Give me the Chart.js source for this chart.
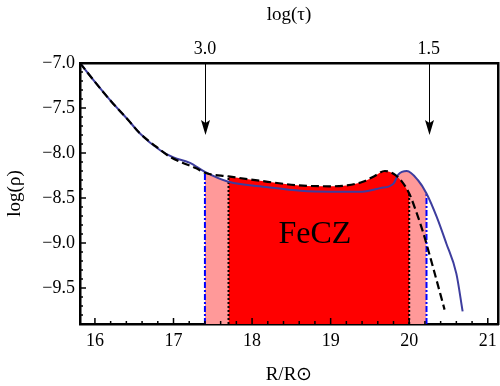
<!DOCTYPE html>
<html>
<head>
<meta charset="utf-8">
<script src="https://cdn.jsdelivr.net/npm/chart.js@4"></script>
<style>
  body { margin: 0; background: #fff; }
  #wrap { width: 500px; height: 386px; }
</style>
</head>
<body>
<div id="wrap"><canvas id="densityChart" width="500" height="386"></canvas></div>
<script>
// density profiles (R in solar radii, log rho)
var dashedR   = [15.81, 16.00, 16.21, 16.42, 16.57, 16.78, 16.95, 17.12, 17.29, 17.40, 17.70, 18.20, 18.60, 19.00, 19.20, 19.41, 19.55, 19.69, 19.80, 19.90, 20.00, 20.10, 20.18, 20.30, 20.45];
var dashedRho = [-7.00, -7.21, -7.43, -7.63, -7.78, -7.93, -8.04, -8.11, -8.17, -8.22, -8.26, -8.32, -8.36, -8.37, -8.36, -8.32, -8.26, -8.20, -8.23, -8.31, -8.45, -8.68, -8.89, -9.26, -9.74];
var solidR    = [15.81, 16.00, 16.21, 16.42, 16.57, 16.83, 17.00, 17.21, 17.40, 17.70, 18.20, 18.62, 19.00, 19.40, 19.63, 19.80, 19.86, 19.97, 20.11, 20.22, 20.35, 20.47, 20.60, 20.68];
var solidRho  = [-7.00, -7.21, -7.43, -7.63, -7.78, -7.97, -8.05, -8.11, -8.21, -8.32, -8.38, -8.42, -8.43, -8.43, -8.39, -8.34, -8.24, -8.20, -8.30, -8.45, -8.71, -9.00, -9.34, -9.76];

// FeCZ boundaries
var outerZone = [17.40, 20.22];   // blue dash-dot, pink
var innerZone = [17.70, 20.00];   // black dotted, red

// top axis: log(tau) markers
var tauR = [17.40, 20.25];
var tauLabels = ['3.0', '1.5'];
var arrowEnd = -7.80;

var xTicks = [16, 17, 18, 19, 20, 21];
var xMinor = [16.2, 16.4, 16.6, 16.8, 17.2, 17.4, 17.6, 17.8, 18.2, 18.4, 18.6, 18.8, 19.2, 19.4, 19.6, 19.8, 20.2, 20.4, 20.6, 20.8];
var yTicks = [-9.5, -9.0, -8.5, -8.0, -7.5, -7.0];
var yMinor = [-9.8, -9.7, -9.6, -9.4, -9.3, -9.2, -9.1, -8.9, -8.8, -8.7, -8.6, -8.4, -8.3, -8.2, -8.1, -7.9, -7.8, -7.7, -7.6, -7.4, -7.3, -7.2, -7.1];

var xMin = 15.81, xMax = 21.13, yMin = -9.9, yMax = -7.0;

function toPoints(xs, ys) {
    return xs.map(function(x, i) { return {x: x, y: ys[i]}; });
}
function between(pts, range) {
    return pts.filter(function(p) { return p.x >= range[0] - 1e-9 && p.x <= range[1] + 1e-9; });
}
function valueAt(pts, x) {
    return pts.find(function(p) { return Math.abs(p.x - x) < 1e-9; }).y;
}
function vertical(x, top) {
    return [{x: x, y: yMin}, {x: x, y: top}];
}

var dashedPts = toPoints(dashedR, dashedRho);
var solidPts = toPoints(solidR, solidRho);

var serif = 'Liberation Serif';
var lineBase = { pointRadius: 0, fill: false, tension: 0 };

function setTicks(values) {
    return function(scale) { scale.ticks = values.map(function(v) { return {value: v}; }); };
}
// pin the plot frame where the original has it
function fixHeight(h) {
    return function(scale) { scale.height = h; scale.paddingLeft = 0; scale.paddingRight = 0; };
}
function fixWidth(w) {
    return function(scale) { scale.width = w; scale.paddingTop = 0; scale.paddingBottom = 0; };
}

// inward ticks, the arrows and the zone label
var overlayPlugin = {
    id: 'overlay',
    afterDatasetsDraw: function(chart) {
        var ctx = chart.ctx;
        var xs = chart.scales.x, ys = chart.scales.y;
        var area = chart.chartArea;
        ctx.save();
        ctx.strokeStyle = '#000';
        ctx.fillStyle = '#000';

        function xTick(v, len) {
            var px = xs.getPixelForValue(v);
            ctx.beginPath();
            ctx.moveTo(px, area.bottom);
            ctx.lineTo(px, area.bottom - len);
            ctx.stroke();
        }
        function yTick(v, len) {
            var py = ys.getPixelForValue(v);
            ctx.beginPath();
            ctx.moveTo(area.left, py);
            ctx.lineTo(area.left + len, py);
            ctx.stroke();
        }
        ctx.lineWidth = 1.5;
        xTicks.forEach(function(v) { xTick(v, 6); });
        yTicks.forEach(function(v) { yTick(v, 6); });
        xMinor.forEach(function(v) { xTick(v, 3); });
        yMinor.forEach(function(v) { yTick(v, 3); });

        ctx.lineWidth = 1;
        tauR.forEach(function(r) {
            var px = Math.round(xs.getPixelForValue(r)) + 0.5;
            var tip = ys.getPixelForValue(arrowEnd);
            ctx.beginPath();
            ctx.moveTo(px, area.top);
            ctx.lineTo(px, tip - 12);
            ctx.stroke();
            ctx.beginPath();
            ctx.moveTo(px, tip);
            ctx.lineTo(px - 4.5, tip - 15);
            ctx.lineTo(px, tip - 12);
            ctx.lineTo(px + 4.5, tip - 15);
            ctx.closePath();
            ctx.fill();
        });

        ctx.font = '32px ' + serif;
        ctx.textAlign = 'center';
        ctx.textBaseline = 'middle';
        ctx.fillText('FeCZ', xs.getPixelForValue(18.80), ys.getPixelForValue(-8.91));
        ctx.restore();
    }
};

var ctx = document.getElementById('densityChart').getContext('2d');
var chart = new Chart(ctx, {
    type: 'line',
    data: {
        datasets: [
            Object.assign({}, lineBase, {
                data: dashedPts, borderColor: '#000', borderWidth: 2.2,
                borderDash: [8, 4], cubicInterpolationMode: 'monotone', order: 0
            }),
            Object.assign({}, lineBase, {
                data: solidPts, borderColor: '#3d3d9e', borderWidth: 2,
                cubicInterpolationMode: 'monotone', order: 1
            }),
            Object.assign({}, lineBase, {
                data: vertical(outerZone[0], valueAt(solidPts, outerZone[0])),
                borderColor: '#0000ff', borderWidth: 2, borderDash: [6, 2, 2, 2], order: 2
            }),
            Object.assign({}, lineBase, {
                data: vertical(outerZone[1], valueAt(solidPts, outerZone[1])),
                borderColor: '#0000ff', borderWidth: 2, borderDash: [6, 2, 2, 2], order: 2
            }),
            Object.assign({}, lineBase, {
                data: vertical(innerZone[0], valueAt(dashedPts, innerZone[0])),
                borderColor: '#000', borderWidth: 2, borderDash: [2, 2], order: 2
            }),
            Object.assign({}, lineBase, {
                data: vertical(innerZone[1], valueAt(dashedPts, innerZone[1])),
                borderColor: '#000', borderWidth: 2, borderDash: [2, 2], order: 2
            }),
            Object.assign({}, lineBase, {
                data: between(dashedPts, innerZone), borderWidth: 0,
                fill: 'start', backgroundColor: '#ff0000',
                cubicInterpolationMode: 'monotone', order: 3
            }),
            Object.assign({}, lineBase, {
                data: between(solidPts, outerZone), borderWidth: 0,
                fill: 'start', backgroundColor: '#ff9999',
                cubicInterpolationMode: 'monotone', order: 4
            })
        ]
    },
    options: {
        responsive: false,
        animation: false,
        layout: { padding: 0 },
        plugins: {
            legend: { display: false },
            tooltip: { enabled: false }
        },
        scales: {
            x: {
                type: 'linear', position: 'bottom',
                min: xMin, max: xMax,
                afterBuildTicks: setTicks(xTicks),
                afterFit: fixHeight(62),
                ticks: {
                    color: '#000', padding: 6, maxRotation: 0,
                    font: { family: serif, size: 18 },
                    callback: function(v) { return String(v); }
                },
                grid: { drawOnChartArea: false, drawTicks: false },
                border: { color: '#000', width: 2.5 },
                title: {
                    display: true, text: 'R/R\u2299', color: '#000',
                    font: { family: serif, size: 19 }, padding: { top: 0, bottom: 0 }
                }
            },
            x2: {
                type: 'linear', position: 'top',
                min: xMin, max: xMax,
                afterBuildTicks: setTicks(tauR),
                afterFit: fixHeight(63),
                ticks: {
                    color: '#000', padding: 3, maxRotation: 0,
                    font: { family: serif, size: 18 },
                    callback: function(v, i) { return tauLabels[i]; }
                },
                grid: { drawOnChartArea: false, drawTicks: false },
                border: { color: '#000', width: 2.5 },
                title: {
                    display: true, text: 'log(\u03c4)', color: '#000',
                    font: { family: serif, size: 19 }, padding: { top: 4, bottom: 0 }
                }
            },
            y: {
                type: 'linear', position: 'left',
                min: yMin, max: yMax,
                afterBuildTicks: setTicks(yTicks),
                afterFit: fixWidth(80),
                ticks: {
                    color: '#000', padding: 5,
                    font: { family: serif, size: 18 },
                    callback: function(v) { return v.toFixed(1).replace('-', '\u2212'); }
                },
                grid: { drawOnChartArea: false, drawTicks: false },
                border: { color: '#000', width: 2.5 },
                title: {
                    display: true, text: 'log(\u03c1)', color: '#000',
                    font: { family: serif, size: 19 }, padding: { top: 4, bottom: 0 }
                }
            },
            yRight: {
                type: 'linear', position: 'right',
                min: yMin, max: yMax,
                afterFit: fixWidth(2),
                ticks: { display: false },
                grid: { drawOnChartArea: false, drawTicks: false },
                border: { color: '#000', width: 2.5 }
            }
        }
    },
    plugins: [overlayPlugin]
});
</script>
</body>
</html>
